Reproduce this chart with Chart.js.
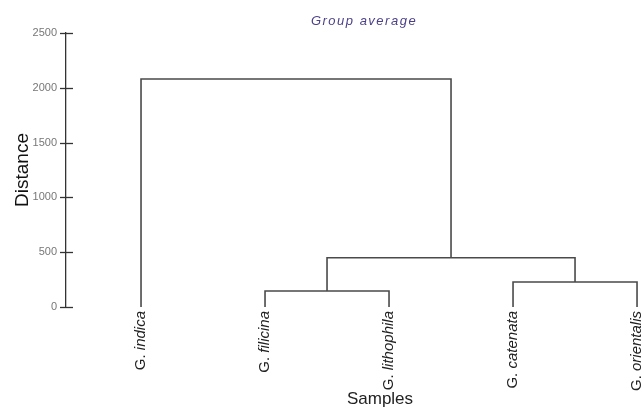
<!DOCTYPE html>
<html>
<head>
<meta charset="utf-8">
<script src="https://cdn.jsdelivr.net/npm/chart.js@4"></script>
<style>
  html, body { margin: 0; padding: 0; background: #ffffff; }
  #wrap { width: 641px; height: 408px; position: relative; }
</style>
</head>
<body>
<div id="wrap"><canvas id="c" width="641" height="408"></canvas></div>
<script>
// ---- data ----
const chartTitle = 'Group average';
const genus = ['G.', 'G.', 'G.', 'G.', 'G.'];
const species = ['indica', 'filicina', 'lithophila', 'catenata', 'orientalis'];
const leafPositions = [0, 1, 2, 3, 4];
const leafHeights = [0, 0, 0, 0, 0];
// linkage: node ids >= 5 refer to earlier merges (5 = first merge, ...)
const mergeLeft = [1, 3, 5, 0];
const mergeRight = [2, 4, 6, 7];
const mergeHeights = [146, 228, 450, 2080];
const yTicks = [0, 500, 1000, 1500, 2000, 2500];
const yAxisTitle = 'Distance';
const xAxisTitle = 'Samples';

// ---- build node positions from the linkage ----
const nodeX = leafPositions.slice();
const nodeH = leafHeights.slice();
const datasets = [];
for (let i = 0; i < mergeHeights.length; i++) {
  const a = mergeLeft[i], b = mergeRight[i], h = mergeHeights[i];
  datasets.push({
    data: [
      { x: nodeX[a], y: nodeH[a] },
      { x: nodeX[a], y: h },
      { x: nodeX[b], y: h },
      { x: nodeX[b], y: nodeH[b] }
    ],
    showLine: true,
    borderColor: '#4a4a4a',
    borderWidth: 1.6,
    pointRadius: 0,
    fill: false,
    tension: 0
  });
  nodeX.push((nodeX[a] + nodeX[b]) / 2);
  nodeH.push(h);
}

const textPlugin = {
  id: 'textPlugin',
  afterDraw(chart) {
    const ctx = chart.ctx;
    const xs = chart.scales.x, ys = chart.scales.y;
    const area = chart.chartArea;
    ctx.save();
    // cross tick marks on y axis
    ctx.strokeStyle = '#333333';
    ctx.lineWidth = 1.3;
    yTicks.forEach(v => {
      const py = Math.round(ys.getPixelForValue(v)) + 0.5;
      ctx.beginPath();
      ctx.moveTo(area.left - 6, py);
      ctx.lineTo(area.left + 7, py);
      ctx.stroke();
    });
    // title
    ctx.fillStyle = '#4b3f88';
    ctx.font = 'italic 13px "Liberation Sans", Arial, sans-serif';
    ctx.textAlign = 'center';
    ctx.textBaseline = 'middle';
    try { ctx.letterSpacing = '1.5px'; } catch (e) {}
    ctx.fillText(chartTitle, 364, 21);
    try { ctx.letterSpacing = '0px'; } catch (e) {}
    // leaf labels
    ctx.fillStyle = '#222222';
    const upFont = '15px "Liberation Sans", Arial, sans-serif';
    const itFont = 'italic 15px "Liberation Sans", Arial, sans-serif';
    leafPositions.forEach((p, i) => {
      const px = xs.getPixelForValue(p);
      const py = area.bottom + 4;
      const t1 = genus[i] + ' ';
      const t2 = species[i];
      ctx.font = upFont;
      const w1 = ctx.measureText(t1).width;
      ctx.font = itFont;
      const w2 = ctx.measureText(t2).width;
      const W = w1 + w2;
      ctx.save();
      ctx.translate(px, py);
      ctx.rotate(-Math.PI / 2);
      ctx.textAlign = 'left';
      ctx.textBaseline = 'middle';
      ctx.font = upFont;
      ctx.fillText(t1, -W, 0);
      ctx.font = itFont;
      ctx.fillText(t2, -W + w1, 0);
      ctx.restore();
    });
    // x axis title
    ctx.fillStyle = '#222222';
    ctx.font = '17px "Liberation Sans", Arial, sans-serif';
    ctx.textAlign = 'center';
    ctx.textBaseline = 'middle';
    ctx.fillText(xAxisTitle, 380, 399);
    ctx.restore();
  }
};

new Chart(document.getElementById('c'), {
  type: 'scatter',
  data: { datasets: datasets },
  options: {
    responsive: false,
    animation: false,
    layout: { padding: { top: 33, bottom: 101, left: 0, right: 0 } },
    plugins: {
      legend: { display: false },
      tooltip: { enabled: false },
      title: { display: false }
    },
    scales: {
      x: {
        type: 'linear',
        display: false,
        min: -0.605,
        max: 4.032
      },
      y: {
        type: 'linear',
        min: 0,
        max: 2500,
        afterFit(scale) { scale.width = 66; },
        afterBuildTicks(scale) { scale.ticks = yTicks.map(v => ({ value: v })); },
        ticks: {
          color: '#777777',
          font: { family: '"Liberation Sans", Arial, sans-serif', size: 11 },
          padding: 9,
          callback: (v) => String(v)
        },
        grid: { display: true, drawOnChartArea: false, drawTicks: false },
        border: { display: true, color: '#333333', width: 1.3 },
        title: {
          display: true,
          text: yAxisTitle,
          color: '#111111',
          font: { family: '"Liberation Sans", Arial, sans-serif', size: 19 },
          padding: { top: 11 }
        }
      }
    }
  },
  plugins: [textPlugin]
});
</script>
</body>
</html>
